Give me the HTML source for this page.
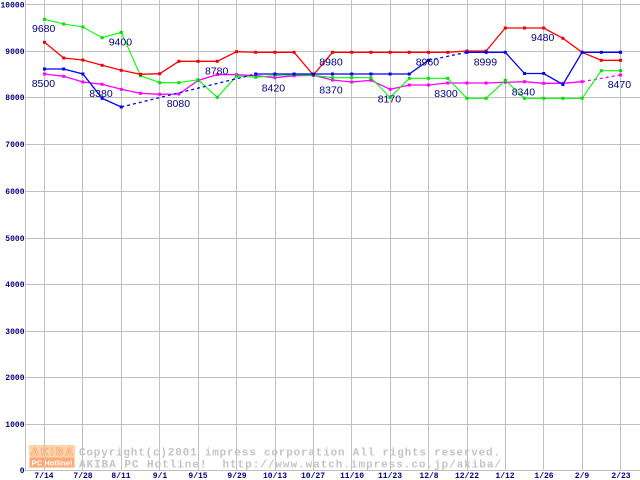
<!DOCTYPE html>
<html><head><meta charset="utf-8"><style>
html,body{margin:0;padding:0;background:#fff;}
svg{display:block;}
</style></head><body>
<svg width="640" height="480" viewBox="0 0 640 480" xmlns="http://www.w3.org/2000/svg">
<rect x="0" y="0" width="640" height="480" fill="#fff"/>
<!-- watermark -->
<g>
<rect x="29" y="445" width="46" height="23" fill="#ffd4aa"/>
<text x="31" y="455" font-family="Liberation Sans, sans-serif" font-weight="bold" font-size="10.5" fill="#fff" stroke="#ffa060" stroke-width="0.8" textLength="42" lengthAdjust="spacing">AKIBA</text>
<rect x="30" y="457.5" width="44" height="9.5" rx="1.5" fill="#ffa878"/>
<text x="31.5" y="465.5" font-family="Liberation Sans, sans-serif" font-weight="bold" font-size="7.5" fill="#fff" textLength="41" lengthAdjust="spacingAndGlyphs">PC Hotline!</text>
<text x="79" y="455.5" font-family="Liberation Mono, monospace" font-weight="bold" font-size="11" fill="#c4c4c4" textLength="421" lengthAdjust="spacing">Copyright(c)2001 impress corporation All rights reserved.</text>
<text x="79" y="467.5" font-family="Liberation Mono, monospace" font-weight="bold" font-size="11" fill="#c4c4c4" textLength="422" lengthAdjust="spacing" xml:space="preserve">AKIBA PC Hotline!  http://www.watch.impress.co.jp/akiba/</text>
</g>
<!-- grid -->
<g fill="#c0c0c0" shape-rendering="crispEdges">
<rect x="25" y="0" width="1" height="471"/>
<rect x="44" y="0" width="1" height="471"/>
<rect x="82" y="0" width="1" height="471"/>
<rect x="121" y="0" width="1" height="471"/>
<rect x="159" y="0" width="1" height="471"/>
<rect x="198" y="0" width="1" height="471"/>
<rect x="236" y="0" width="1" height="471"/>
<rect x="275" y="0" width="1" height="471"/>
<rect x="313" y="0" width="1" height="471"/>
<rect x="351" y="0" width="1" height="471"/>
<rect x="390" y="0" width="1" height="471"/>
<rect x="428" y="0" width="1" height="471"/>
<rect x="467" y="0" width="1" height="471"/>
<rect x="505" y="0" width="1" height="471"/>
<rect x="543" y="0" width="1" height="471"/>
<rect x="582" y="0" width="1" height="471"/>
<rect x="620" y="0" width="1" height="471"/>
<rect x="25" y="4" width="615" height="1"/>
<rect x="25" y="51" width="615" height="1"/>
<rect x="25" y="97" width="615" height="1"/>
<rect x="25" y="144" width="615" height="1"/>
<rect x="25" y="191" width="615" height="1"/>
<rect x="25" y="238" width="615" height="1"/>
<rect x="25" y="284" width="615" height="1"/>
<rect x="25" y="331" width="615" height="1"/>
<rect x="25" y="377" width="615" height="1"/>
<rect x="25" y="424" width="615" height="1"/>
<rect x="25" y="470" width="615" height="1"/>
</g>
<!-- y labels -->
<g font-family="Liberation Mono, monospace" font-weight="bold" font-size="8" fill="#000080" text-anchor="end">
<text x="24.5" y="7.5">10000</text>
<text x="24.5" y="54">9000</text>
<text x="24.5" y="100">8000</text>
<text x="24.5" y="147">7000</text>
<text x="24.5" y="194">6000</text>
<text x="24.5" y="241">5000</text>
<text x="24.5" y="287">4000</text>
<text x="24.5" y="334">3000</text>
<text x="24.5" y="380">2000</text>
<text x="24.5" y="427">1000</text>
<text x="24.5" y="473">0</text>
</g>
<!-- x labels -->
<g font-family="Liberation Mono, monospace" font-weight="bold" font-size="8" fill="#000080" text-anchor="middle">
<text x="44" y="478">7/14</text>
<text x="83" y="478">7/28</text>
<text x="121" y="478">8/11</text>
<text x="160" y="478">9/1</text>
<text x="198" y="478">9/15</text>
<text x="237" y="478">9/29</text>
<text x="275" y="478">10/13</text>
<text x="313" y="478">10/27</text>
<text x="352" y="478">11/10</text>
<text x="390" y="478">11/23</text>
<text x="429" y="478">12/8</text>
<text x="467" y="478">12/22</text>
<text x="505" y="478">1/12</text>
<text x="544" y="478">1/26</text>
<text x="582" y="478">2/9</text>
<text x="621" y="478">2/23</text>
</g>
<!-- magenta -->
<g stroke="#ff00ff" stroke-width="1.3" fill="none">
<polyline points="44.5,74 63.7,76.3 82.9,82 102.1,84.3 121.3,89.3 140.5,93.3 159.7,94.3 178.9,94 198.1,80.5 217.3,74.5 236.5,74.7 255.7,75.7 274.9,77.7 294.1,75.7 313.3,75.3 332.5,80 351.7,82 370.9,80.3 390.1,89.3 409.3,85 428.5,85 447.7,83 466.9,83 486.1,83 505.3,82.3 524.5,81.7 543.7,83.3 562.9,83.3 582.1,81.7"/>
<polyline points="582.1,81.7 620.5,75" stroke-dasharray="3,3"/>
</g>
<g fill="#ff00ff">
<rect x="43" y="72.5" width="3" height="3"/><rect x="62.2" y="74.8" width="3" height="3"/><rect x="81.4" y="80.5" width="3" height="3"/><rect x="100.6" y="82.8" width="3" height="3"/><rect x="119.8" y="87.8" width="3" height="3"/><rect x="139" y="91.8" width="3" height="3"/><rect x="158.2" y="92.8" width="3" height="3"/><rect x="177.4" y="92.5" width="3" height="3"/><rect x="196.6" y="79" width="3" height="3"/><rect x="215.8" y="73" width="3" height="3"/><rect x="235" y="73.2" width="3" height="3"/><rect x="254.2" y="74.2" width="3" height="3"/><rect x="273.4" y="76.2" width="3" height="3"/><rect x="292.6" y="74.2" width="3" height="3"/><rect x="311.8" y="73.8" width="3" height="3"/><rect x="331" y="78.5" width="3" height="3"/><rect x="350.2" y="80.5" width="3" height="3"/><rect x="369.4" y="78.8" width="3" height="3"/><rect x="388.6" y="87.8" width="3" height="3"/><rect x="407.8" y="83.5" width="3" height="3"/><rect x="427" y="83.5" width="3" height="3"/><rect x="446.2" y="81.5" width="3" height="3"/><rect x="465.4" y="81.5" width="3" height="3"/><rect x="484.6" y="81.5" width="3" height="3"/><rect x="503.8" y="80.8" width="3" height="3"/><rect x="523" y="80.2" width="3" height="3"/><rect x="542.2" y="81.8" width="3" height="3"/><rect x="561.4" y="81.8" width="3" height="3"/><rect x="580.6" y="80.2" width="3" height="3"/><rect x="619" y="73.5" width="3" height="3"/>
</g>
<!-- green -->
<polyline fill="none" stroke="#00ff00" stroke-width="1.1" points="44.5,19.3 63.7,24 82.9,27 102.1,37.7 121.3,32.3 140.5,75.7 159.7,82.7 178.9,82.7 198.1,79.7 217.3,97.3 236.5,76 255.7,77.3 274.9,75.5 294.1,74.7 313.3,75.3 332.5,77.7 351.7,77.7 370.9,77.7 390.1,97.5 409.3,78.3 428.5,78.3 447.7,78.3 466.9,98.3 486.1,98.3 505.3,80.3 524.5,98.3 543.7,98.3 562.9,98.3 582.1,98.3 601.3,70.7 620.5,70.7"/>
<g fill="#00e000">
<rect x="43" y="17.8" width="3" height="3"/><rect x="62.2" y="22.5" width="3" height="3"/><rect x="81.4" y="25.5" width="3" height="3"/><rect x="100.6" y="36.2" width="3" height="3"/><rect x="119.8" y="30.8" width="3" height="3"/><rect x="139" y="74.2" width="3" height="3"/><rect x="158.2" y="81.2" width="3" height="3"/><rect x="177.4" y="81.2" width="3" height="3"/><rect x="196.6" y="78.2" width="3" height="3"/><rect x="215.8" y="95.8" width="3" height="3"/><rect x="235" y="74.5" width="3" height="3"/><rect x="254.2" y="75.8" width="3" height="3"/><rect x="273.4" y="74" width="3" height="3"/><rect x="292.6" y="73.2" width="3" height="3"/><rect x="311.8" y="73.8" width="3" height="3"/><rect x="331" y="76.2" width="3" height="3"/><rect x="350.2" y="76.2" width="3" height="3"/><rect x="369.4" y="76.2" width="3" height="3"/><rect x="388.6" y="96" width="3" height="3"/><rect x="407.8" y="76.8" width="3" height="3"/><rect x="427" y="76.8" width="3" height="3"/><rect x="446.2" y="76.8" width="3" height="3"/><rect x="465.4" y="96.8" width="3" height="3"/><rect x="484.6" y="96.8" width="3" height="3"/><rect x="503.8" y="78.8" width="3" height="3"/><rect x="523" y="96.8" width="3" height="3"/><rect x="542.2" y="96.8" width="3" height="3"/><rect x="561.4" y="96.8" width="3" height="3"/><rect x="580.6" y="96.8" width="3" height="3"/><rect x="599.8" y="69.2" width="3" height="3"/><rect x="619" y="69.2" width="3" height="3"/>
</g>
<!-- red -->
<polyline fill="none" stroke="#ff0000" stroke-width="1.3" points="44.5,42.3 63.7,58 82.9,60 102.1,65.3 121.3,70.3 140.5,74.3 159.7,73.7 178.9,61.3 198.1,61.3 217.3,61.3 236.5,51.7 255.7,52.3 274.9,52.3 294.1,52.3 313.3,75 332.5,52.3 351.7,52.3 370.9,52.3 390.1,52.3 409.3,52.3 428.5,52.3 447.7,52.3 466.9,51 486.1,51 505.3,28 524.5,28 543.7,28 562.9,38.3 582.1,52.3 601.3,60.3 620.5,60.3"/>
<g fill="#ee0000">
<rect x="43" y="40.8" width="3" height="3"/><rect x="62.2" y="56.5" width="3" height="3"/><rect x="81.4" y="58.5" width="3" height="3"/><rect x="100.6" y="63.8" width="3" height="3"/><rect x="119.8" y="68.8" width="3" height="3"/><rect x="139" y="72.8" width="3" height="3"/><rect x="158.2" y="72.2" width="3" height="3"/><rect x="177.4" y="59.8" width="3" height="3"/><rect x="196.6" y="59.8" width="3" height="3"/><rect x="215.8" y="59.8" width="3" height="3"/><rect x="235" y="50.2" width="3" height="3"/><rect x="254.2" y="50.8" width="3" height="3"/><rect x="273.4" y="50.8" width="3" height="3"/><rect x="292.6" y="50.8" width="3" height="3"/><rect x="311.8" y="73.5" width="3" height="3"/><rect x="331" y="50.8" width="3" height="3"/><rect x="350.2" y="50.8" width="3" height="3"/><rect x="369.4" y="50.8" width="3" height="3"/><rect x="388.6" y="50.8" width="3" height="3"/><rect x="407.8" y="50.8" width="3" height="3"/><rect x="427" y="50.8" width="3" height="3"/><rect x="446.2" y="50.8" width="3" height="3"/><rect x="465.4" y="49.5" width="3" height="3"/><rect x="484.6" y="49.5" width="3" height="3"/><rect x="503.8" y="26.5" width="3" height="3"/><rect x="523" y="26.5" width="3" height="3"/><rect x="542.2" y="26.5" width="3" height="3"/><rect x="561.4" y="36.8" width="3" height="3"/><rect x="580.6" y="50.8" width="3" height="3"/><rect x="599.8" y="58.8" width="3" height="3"/><rect x="619" y="58.8" width="3" height="3"/>
</g>
<!-- blue -->
<g stroke="#0000ff" stroke-width="1.3" fill="none">
<polyline points="44.5,69 63.7,69 82.9,74 102.1,98.3 121.3,107"/>
<polyline points="121.3,107 255.7,74" stroke-dasharray="3,3"/>
<polyline points="255.7,74 274.9,74 294.1,74 313.3,74 332.5,74 351.7,74 370.9,74 390.1,74 409.3,74 428.5,60.3"/>
<polyline points="428.5,60.3 466.9,52.3" stroke-dasharray="3,3"/>
<polyline points="466.9,52.3 486.1,52.3 505.3,52.3 524.5,73.5 543.7,73.5 562.9,84.5 582.1,52.3 601.3,52.3 620.5,52.3"/>
</g>
<g fill="#0000ee">
<rect x="43" y="67.5" width="3" height="3"/><rect x="62.2" y="67.5" width="3" height="3"/><rect x="81.4" y="72.5" width="3" height="3"/><rect x="100.6" y="96.8" width="3" height="3"/><rect x="119.8" y="105.5" width="3" height="3"/><rect x="254.2" y="72.5" width="3" height="3"/><rect x="273.4" y="72.5" width="3" height="3"/><rect x="292.6" y="72.5" width="3" height="3"/><rect x="311.8" y="72.5" width="3" height="3"/><rect x="331" y="72.5" width="3" height="3"/><rect x="350.2" y="72.5" width="3" height="3"/><rect x="369.4" y="72.5" width="3" height="3"/><rect x="388.6" y="72.5" width="3" height="3"/><rect x="407.8" y="72.5" width="3" height="3"/><rect x="427" y="58.8" width="3" height="3"/><rect x="465.4" y="50.8" width="3" height="3"/><rect x="484.6" y="50.8" width="3" height="3"/><rect x="503.8" y="50.8" width="3" height="3"/><rect x="523" y="72" width="3" height="3"/><rect x="542.2" y="72" width="3" height="3"/><rect x="561.4" y="83" width="3" height="3"/><rect x="580.6" y="50.8" width="3" height="3"/><rect x="599.8" y="50.8" width="3" height="3"/><rect x="619" y="50.8" width="3" height="3"/>
</g>
<!-- value labels -->
<g font-family="Liberation Sans, sans-serif" font-size="10.5" fill="#000080">
<text x="32" y="32">9680</text>
<text x="108.7" y="45.5">9400</text>
<text x="31.7" y="87">8500</text>
<text x="89.3" y="97">8380</text>
<text x="166.7" y="107">8080</text>
<text x="205" y="74.5">8780</text>
<text x="261.7" y="91.5">8420</text>
<text x="319.3" y="65.5">8980</text>
<text x="319.3" y="93.5">8370</text>
<text x="377.7" y="102.5">8170</text>
<text x="415.7" y="65.5">8960</text>
<text x="473.7" y="65.5">8999</text>
<text x="434.3" y="97">8300</text>
<text x="511.7" y="95.5">8340</text>
<text x="531" y="41">9480</text>
<text x="607.7" y="88">8470</text>
</g>
</svg>
</body></html>
